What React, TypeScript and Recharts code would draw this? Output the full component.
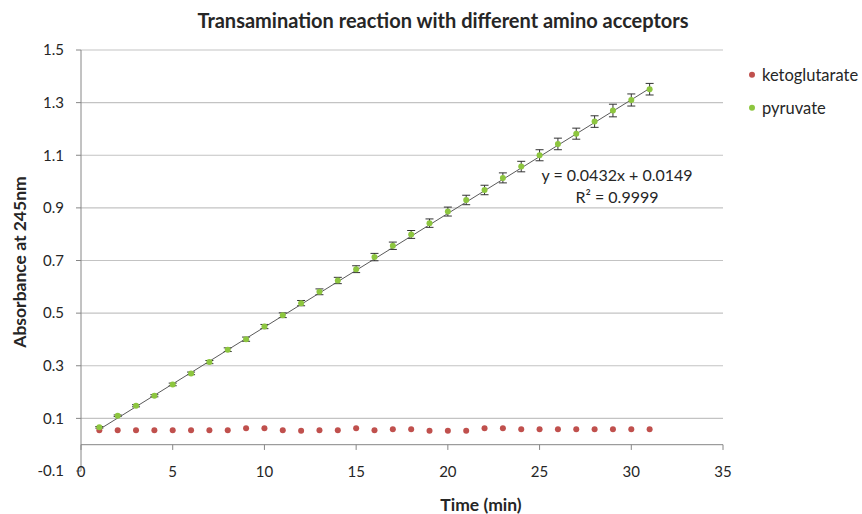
import React from 'react';
import { ComposedChart, Scatter, Line, XAxis, YAxis, CartesianGrid, ErrorBar, ReferenceLine } from 'recharts';

// time points (min)
const minutes = [1, 2, 3, 4, 5, 6, 7, 8, 9, 10, 11, 12, 13, 14, 15, 16, 17, 18, 19, 20, 21, 22, 23, 24, 25, 26, 27, 28, 29, 30, 31];

const pyruvate = [
  0.066, 0.110, 0.148, 0.186, 0.229, 0.271, 0.314, 0.361, 0.401, 0.449, 0.492, 0.538, 0.581, 0.624, 0.667, 0.713,
  0.756, 0.799, 0.842, 0.886, 0.930, 0.968, 1.014, 1.057, 1.100, 1.143, 1.182, 1.228, 1.270, 1.310, 1.351,
];
const pyruvateErr = [
  0.003, 0.003, 0.004, 0.004, 0.005, 0.005, 0.006, 0.007, 0.008, 0.008, 0.009, 0.010, 0.011, 0.012, 0.013, 0.014,
  0.014, 0.015, 0.016, 0.017, 0.018, 0.018, 0.019, 0.020, 0.021, 0.022, 0.021, 0.022, 0.024, 0.023, 0.022,
];

const ketoglutarate = [
  0.055, 0.055, 0.055, 0.055, 0.055, 0.055, 0.055, 0.055, 0.062, 0.062, 0.055, 0.053, 0.055, 0.055, 0.062, 0.055,
  0.059, 0.059, 0.053, 0.053, 0.053, 0.062, 0.062, 0.059, 0.059, 0.059, 0.059, 0.059, 0.059, 0.059, 0.059,
];
const ketoglutarateErr = [
  0.004, 0.004, 0.004, 0.004, 0.004, 0.004, 0.004, 0.004, 0.005, 0.005, 0.004, 0.004, 0.004, 0.004, 0.005, 0.004,
  0.005, 0.005, 0.004, 0.004, 0.004, 0.005, 0.005, 0.005, 0.005, 0.005, 0.005, 0.005, 0.005, 0.005, 0.005,
];

// linear trendline endpoints for pyruvate
const trendX = [1, 31];
const trendY = [0.058, 1.354];

const xTicks = [0, 5, 10, 15, 20, 25, 30, 35];
const yTicks = [-0.1, 0.1, 0.3, 0.5, 0.7, 0.9, 1.1, 1.3, 1.5];
const gridValues = [0.1, 0.3, 0.5, 0.7, 0.9, 1.1, 1.3, 1.5];

const FONT = 'Lato, "Liberation Sans", sans-serif';
const TEXT = '#262626';
const AXIS = '#868686';
const GREEN = '#8dc63f';
const RED = '#c0504d';

const pyruvateData = minutes.map((m, i) => ({ x: m, y: pyruvate[i], err: pyruvateErr[i] }));
const ketoData = minutes.map((m, i) => ({ x: m, y: ketoglutarate[i], err: ketoglutarateErr[i] }));
const trendData = trendX.map((x, i) => ({ x, y: trendY[i] }));

const XTick = (props: any) => {
  const { x, y, payload } = props;
  return (
    <text x={x} y={y} textAnchor="middle" dominantBaseline="central" fontSize={15} fill={TEXT} fontFamily={FONT}>
      {payload.value}
    </text>
  );
};

const dot = (color: string) => (props: any) => <circle cx={props.cx} cy={props.cy} r={3} fill={color} />;

const abs = (extra: React.CSSProperties): React.CSSProperties => ({
  position: 'absolute',
  fontFamily: FONT,
  color: TEXT,
  lineHeight: 1,
  whiteSpace: 'nowrap',
  ...extra,
});

const App: React.FC = () => {
  return (
    <div style={{ position: 'absolute', left: 0, top: 0, width: 862, height: 514, background: '#fff' }}>
      <ComposedChart width={862} height={514} margin={{ top: 50, right: 139, bottom: 42, left: 21 }}>
        <CartesianGrid vertical={false} horizontalValues={gridValues} stroke="#c3c3c3" strokeWidth={1.2} />
        <XAxis
          type="number"
          dataKey="x"
          domain={[0, 35]}
          ticks={xTicks}
          interval={0}
          axisLine={false}
          tickLine={false}
          tickSize={0}
          tickMargin={0}
          height={1}
          tick={<XTick />}
        />
        <YAxis
          type="number"
          dataKey="y"
          domain={[-0.1, 1.5]}
          ticks={yTicks}
          interval={0}
          width={60}
          tickSize={5}
          tickMargin={12}
          axisLine={{ stroke: AXIS }}
          tickLine={{ stroke: AXIS }}
          tickFormatter={(v: number) => v.toFixed(1)}
          tick={{ fontSize: 15, fill: TEXT, fontFamily: FONT }}
        />
        <ReferenceLine y={0} stroke={AXIS} />
        {xTicks.map((t) => (
          <ReferenceLine
            key={t}
            segment={[{ x: t, y: 0 }, { x: t, y: -0.02 }]}
            stroke={AXIS}
            ifOverflow="visible"
          />
        ))}
        <Scatter data={ketoData} fill={RED} shape={dot(RED)} isAnimationActive={false}>
          <ErrorBar dataKey="err" direction="y" width={1} stroke="#333" strokeWidth={1} />
        </Scatter>
        <Scatter data={pyruvateData} fill={GREEN} shape={dot(GREEN)} isAnimationActive={false}>
          <ErrorBar dataKey="err" direction="y" width={4} stroke="#333" strokeWidth={1} />
        </Scatter>
        <Line
          data={trendData}
          dataKey="y"
          type="linear"
          stroke="#5a5a5a"
          strokeWidth={1}
          dot={false}
          activeDot={false}
          legendType="none"
          isAnimationActive={false}
        />
      </ComposedChart>

      <div style={abs({ left: 443, top: 20, transform: 'translate(-50%, -50%)', fontSize: 20, fontWeight: 700 })}>
        Transamination reaction with different amino acceptors
      </div>
      <div style={abs({ left: 20, top: 262, transform: 'translate(-50%, -50%) rotate(-90deg)', fontSize: 17.5, fontWeight: 700 })}>
        Absorbance at 245nm
      </div>
      <div style={abs({ left: 481, top: 505, transform: 'translate(-50%, -50%)', fontSize: 17.5, fontWeight: 700 })}>
        Time (min)
      </div>

      <div style={abs({ left: 617, top: 175, transform: 'translate(-50%, -50%)', fontSize: 16 })}>
        y = 0.0432x + 0.0149
      </div>
      <div style={abs({ left: 617, top: 197, transform: 'translate(-50%, -50%)', fontSize: 16 })}>
        R² = 0.9999
      </div>

      {[
        { name: 'ketoglutarate', color: RED, y: 75 },
        { name: 'pyruvate', color: GREEN, y: 108 },
      ].map((item) => (
        <div key={item.name} style={abs({ left: 749, top: item.y, transform: 'translateY(-50%)', fontSize: 16.5, display: 'flex', alignItems: 'center' })}>
          <span style={{ width: 6, height: 6, borderRadius: 3, background: item.color, marginRight: 7, display: 'inline-block' }} />
          {item.name}
        </div>
      ))}
    </div>
  );
};

export default App;
